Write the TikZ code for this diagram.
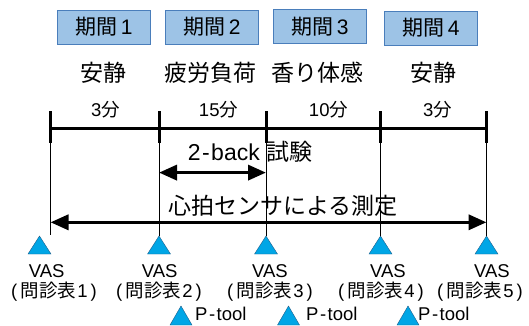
\documentclass[tikz,border=0pt]{standalone}
\usepackage{fontspec}
\setmainfont{Liberation Sans}
\newfontfamily\jp{Noto Sans CJK JP}
\usetikzlibrary{arrows.meta}
\definecolor{boxfill}{HTML}{9DC3E6}
\definecolor{boxline}{HTML}{4A7EBB}
\definecolor{trifill}{HTML}{00A6E6}
\definecolor{triline}{HTML}{1F5F8B}
\newcommand\qlab[1]{(\hspace{3.5pt}{\jp 問診表}\hspace{1pt}#1\hspace{3pt})}
\begin{document}
\begin{tikzpicture}[x=1pt,y=-1pt,
  period/.style={draw=boxline,line width=0.9pt,fill=boxfill,minimum width=93pt,minimum height=34pt,inner sep=0pt,font=\fontsize{21}{21}\selectfont},
  phase/.style={font=\fontsize{23}{23}\selectfont,inner sep=0pt},
  dur/.style={font=\fontsize{18.5}{18.5}\selectfont,inner sep=0pt},
  lbl/.style={font=\fontsize{18.5}{18.5}\selectfont,inner sep=0pt},
  tri/.style={draw=triline,line width=0.4pt,fill=trifill},
  thick tick/.style={line width=3pt},
  thin line/.style={line width=0.8pt},
  dbl/.style={line width=3.5pt,{Triangle[length=18pt,width=15pt]}-{Triangle[length=18pt,width=15pt]}}
]
\useasboundingbox (0,0) rectangle (529,325);
% period boxes
\node[period] (p1) at (104,27) {{\jp 期間}\,1};
\node[period] (p2) at (212,27) {{\jp 期間}\,2};
\node[period] (p3) at (320,26.5) {{\jp 期間}\,3};
\node[period] (p4) at (431,28) {{\jp 期間}\,4};
% phase labels
\node[phase] (s1) at (103,73) {\jp 安静};
\node[phase] (s2) at (210,73) {\jp 疲労負荷};
\node[phase] (s3) at (317.5,73) {\jp 香り体感};
\node[phase] (s4) at (433,73) {\jp 安静};
% durations
\node[dur] (d1) at (105.5,110) {3{\jp 分}};
\node[dur] (d2) at (218.5,110) {15{\jp 分}};
\node[dur] (d3) at (328.5,110) {10{\jp 分}};
\node[dur] (d4) at (437.5,110) {3{\jp 分}};
% tick coordinates
\coordinate (t1) at (50.5,111);
\coordinate (t2) at (159,111);
\coordinate (t3) at (266,111);
\coordinate (t4) at (380.5,111);
\coordinate (t5) at (486.5,111);
\coordinate (m1) at (50.5,128.3);
\coordinate (m5) at (486.5,128.3);
% triangles (VAS)
\path[tri] (39.5,236) -- (51,254) -- (28,254) -- cycle;
\coordinate (v1) at (50.5,235);
\foreach \i/\x in {2/159,3/266,4/380.5,5/486.5}{
  \coordinate (v\i) at (\x,236);
  \path[tri] (\x,236) -- (\x+11.5,254) -- (\x-11.5,254) -- cycle;
}
% thin vertical lines
\foreach \i in {1,...,5}{\draw[thin line] (t\i) -- (v\i);}
% thick ticks
\foreach \i in {1,...,5}{\draw[thick tick] (t\i) -- ++(0,32);}
% main line
\draw[line width=3.3pt] (m1) -- (m5);
% 2-back arrow
\coordinate (b1) at (159,172.6);
\coordinate (b2) at (266,172.6);
\draw[dbl] (b1) -- (b2);
\node[phase] (bt) at (250,152) {2\hspace{1.5pt}-\hspace{1.5pt}back {\jp 試験}};
% heart arrow
\coordinate (h1) at (50.5,222.3);
\coordinate (h2) at (486.5,222.3);
\draw[dbl] (h1) -- (h2);
\node[phase] (ht) at (283,206) {\jp 心拍センサによる測定};
% VAS labels
\node[lbl] (a1) at (46.7,271) {VAS};
\node[lbl] (a2) at (159.6,271) {VAS};
\node[lbl] (a3) at (270,271) {VAS};
\node[lbl] (a4) at (388,271) {VAS};
\node[lbl] (a5) at (492,271) {VAS};
\node[lbl] (q1) at (54,292) {\qlab{1}};
\node[lbl] (q2) at (159,292) {\qlab{2}};
\node[lbl] (q3) at (270,292) {\qlab{3}};
\node[lbl] (q4) at (381,292) {\qlab{4}};
\node[lbl] (q5) at (480,292) {\qlab{5}};
% P-tool
\foreach \x/\tx [count=\k] in {181/195,288.5/306,408/418}{
  \path[tri] (\x,306) -- (\x+11,325) -- (\x-11,325) -- cycle;
  \node[lbl,anchor=west] (pt\k) at (\tx,313.5) {P\hspace{1.5pt}-\hspace{1.5pt}tool};
}
\end{tikzpicture}
\end{document}
